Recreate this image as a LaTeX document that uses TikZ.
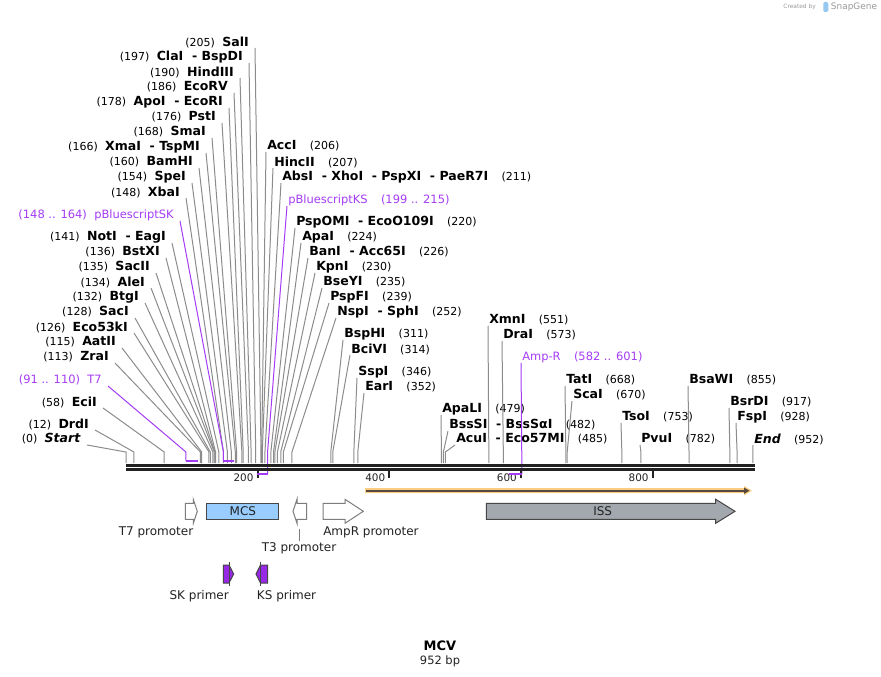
\documentclass[tikz,border=0pt]{standalone}
\usepackage{fontspec}
\setmainfont{DejaVu Sans}
\usepackage{xcolor}

\definecolor{cutgray}{RGB}{140,140,140}
\definecolor{featpurple}{RGB}{165,60,245}
\definecolor{primpurple}{RGB}{150,40,230}
\definecolor{mcsblue}{RGB}{153,204,255}
\definecolor{issgray}{RGB}{163,168,174}
\definecolor{orflight}{RGB}{250,205,130}
\definecolor{orfdark}{RGB}{85,72,60}
\definecolor{bbblack}{RGB}{34,34,34}
\definecolor{outlinegray}{RGB}{70,70,70}
\definecolor{promgray}{RGB}{125,125,125}
\definecolor{textgray}{RGB}{34,34,34}
\definecolor{logoblue}{RGB}{150,200,240}

\newcommand{\bpx}[1]{126+0.6585*#1}
\newcommand{\bpnum}[1]{{\fontsize{8.25}{10}\selectfont(#1)}}
\newcommand{\lgap}{\hspace{5.5pt}}
\newcommand{\rgap}{\hspace{10pt}}

\begin{document}
\begin{tikzpicture}[
    x=0.75pt, y=-0.75pt,
    enz/.style={inner sep=0pt, font=\fontsize{9.4}{10}\selectfont},
    featlab/.style={inner sep=0pt, text=featpurple, font=\fontsize{8.6}{10}\selectfont},
    cut/.style={draw=cutgray, line width=0.75pt},
    featline/.style={draw=featpurple, line width=0.75pt},
    bracket/.style={draw=featpurple, line width=1.6pt},
    prom/.style={draw=promgray, fill=white, line width=0.75pt},
    box/.style={draw=outlinegray, line width=0.75pt},
    primer/.style={draw=outlinegray, fill=primpurple, line width=0.75pt},
    ftext/.style={inner sep=0pt, text=textgray, font=\fontsize{9}{10}\selectfont}
  ]
\fill[white] (0,0) rectangle (881,677);
\useasboundingbox (0,0) rectangle (881,677);

\coordinate (elb) at (0,452);
\coordinate (bbL) at (126,465.3);
\coordinate (bbR) at (755,465.3);

% left-hand labels
\node[enz, anchor=east] (SalI) at (249,42) {\bpnum{205}\lgap\textbf{SalI}};
\node[enz, anchor=east] (ClaI) at (243,57) {\bpnum{197}\lgap\textbf{ClaI\ \ - BspDI}};
\node[enz, anchor=east] (HindIII) at (234,72) {\bpnum{190}\lgap\textbf{HindIII}};
\node[enz, anchor=east] (EcoRV) at (228,87) {\bpnum{186}\lgap\textbf{EcoRV}};
\node[enz, anchor=east] (ApoI) at (223,102) {\bpnum{178}\lgap\textbf{ApoI\ \ - EcoRI}};
\node[enz, anchor=east] (PstI) at (216,117) {\bpnum{176}\lgap\textbf{PstI}};
\node[enz, anchor=east] (SmaI) at (206,132) {\bpnum{168}\lgap\textbf{SmaI}};
\node[enz, anchor=east] (XmaI) at (200,147) {\bpnum{166}\lgap\textbf{XmaI\ \ - TspMI}};
\node[enz, anchor=east] (BamHI) at (193,162) {\bpnum{160}\lgap\textbf{BamHI}};
\node[enz, anchor=east] (SpeI) at (186,177) {\bpnum{154}\lgap\textbf{SpeI}};
\node[enz, anchor=east] (XbaI) at (180,192) {\bpnum{148}\lgap\textbf{XbaI}};
\node[featlab, anchor=east] (SK) at (174,215) {(148 .. 164)\lgap pBluescriptSK};
\node[enz, anchor=east] (NotI) at (166,237) {\bpnum{141}\lgap\textbf{NotI\ \ - EagI}};
\node[enz, anchor=east] (BstXI) at (160,252) {\bpnum{136}\lgap\textbf{BstXI}};
\node[enz, anchor=east] (SacII) at (150,267) {\bpnum{135}\lgap\textbf{SacII}};
\node[enz, anchor=east] (AleI) at (145,282) {\bpnum{134}\lgap\textbf{AleI}};
\node[enz, anchor=east] (BtgI) at (139,297) {\bpnum{132}\lgap\textbf{BtgI}};
\node[enz, anchor=east] (SacI) at (129,312) {\bpnum{128}\lgap\textbf{SacI}};
\node[enz, anchor=east] (Eco53kI) at (128,327) {\bpnum{126}\lgap\textbf{Eco53kI}};
\node[enz, anchor=east] (AatII) at (116,342) {\bpnum{115}\lgap\textbf{AatII}};
\node[enz, anchor=east] (ZraI) at (109,357) {\bpnum{113}\lgap\textbf{ZraI}};
\node[featlab, anchor=east] (T7) at (102,380) {(91 .. 110)\lgap T7};
\node[enz, anchor=east] (EciI) at (97,402) {\bpnum{58}\lgap\textbf{EciI}};
\node[enz, anchor=east] (DrdI) at (89,424) {\bpnum{12}\lgap\textbf{DrdI}};
\node[enz, anchor=east] (Start) at (81,439) {\bpnum{0}\lgap\textbf{\textit{Start}}};

% right-hand labels
\node[enz, anchor=west] (AccI) at (267,146) {\textbf{AccI}\rgap\bpnum{206}};
\node[enz, anchor=west] (HincII) at (274,162) {\textbf{HincII}\rgap\bpnum{207}};
\node[enz, anchor=west] (AbsI) at (282,177) {\textbf{AbsI\ \ - XhoI\ \ - PspXI\ \ - PaeR7I}\rgap\bpnum{211}};
\node[featlab, anchor=west] (KS) at (288,200) {pBluescriptKS\rgap(199 .. 215)};
\node[enz, anchor=west] (PspOMI) at (296,222) {\textbf{PspOMI\ \ - EcoO109I}\rgap\bpnum{220}};
\node[enz, anchor=west] (ApaI) at (302,237) {\textbf{ApaI}\rgap\bpnum{224}};
\node[enz, anchor=west] (BanI) at (309,252) {\textbf{BanI\ \ - Acc65I}\rgap\bpnum{226}};
\node[enz, anchor=west] (KpnI) at (316,267) {\textbf{KpnI}\rgap\bpnum{230}};
\node[enz, anchor=west] (BseYI) at (323,282) {\textbf{BseYI}\rgap\bpnum{235}};
\node[enz, anchor=west] (PspFI) at (330,297) {\textbf{PspFI}\rgap\bpnum{239}};
\node[enz, anchor=west] (NspI) at (337,312) {\textbf{NspI\ \ - SphI}\rgap\bpnum{252}};
\node[enz, anchor=west] (BspHI) at (344,334) {\textbf{BspHI}\rgap\bpnum{311}};
\node[enz, anchor=west] (BciVI) at (351,349) {\textbf{BciVI}\rgap\bpnum{314}};
\node[enz, anchor=west] (SspI) at (358,372) {\textbf{SspI}\rgap\bpnum{346}};
\node[enz, anchor=west] (EarI) at (365,387) {\textbf{EarI}\rgap\bpnum{352}};
\node[enz, anchor=west] (ApaLI) at (442,409) {\textbf{ApaLI}\rgap\bpnum{479}};
\node[enz, anchor=west] (BssSI) at (449,425) {\textbf{BssSI\ \ - BssSαI}\rgap\bpnum{482}};
\node[enz, anchor=west] (AcuI) at (456,439) {\textbf{AcuI\ \ - Eco57MI}\rgap\bpnum{485}};
\node[enz, anchor=west] (XmnI) at (489,320) {\textbf{XmnI}\rgap\bpnum{551}};
\node[enz, anchor=west] (DraI) at (503,335) {\textbf{DraI}\rgap\bpnum{573}};
\node[featlab, anchor=west] (AmpR) at (522,357) {Amp-R\rgap(582 .. 601)};
\node[enz, anchor=west] (TatI) at (566,380) {\textbf{TatI}\rgap\bpnum{668}};
\node[enz, anchor=west] (ScaI) at (573,395) {\textbf{ScaI}\rgap\bpnum{670}};
\node[enz, anchor=west] (TsoI) at (622,417) {\textbf{TsoI}\rgap\bpnum{753}};
\node[enz, anchor=west] (PvuI) at (641,439) {\textbf{PvuI}\rgap\bpnum{782}};
\node[enz, anchor=west] (BsaWI) at (689,380) {\textbf{BsaWI}\rgap\bpnum{855}};
\node[enz, anchor=west] (BsrDI) at (730,402) {\textbf{BsrDI}\rgap\bpnum{917}};
\node[enz, anchor=west] (FspI) at (737,417) {\textbf{FspI}\rgap\bpnum{928}};
\node[enz, anchor=west] (End) at (754,439) {\textbf{\textit{End}}\rgap\bpnum{952}};

% sites on the backbone
\coordinate (cStart) at ({\bpx{0}},463);
\coordinate (cDrdI) at ({\bpx{12}},463);
\coordinate (cEciI) at ({\bpx{58}},463);
\coordinate (cZraI) at ({\bpx{113}},463);
\coordinate (cAatII) at ({\bpx{115}},463);
\coordinate (cEco53kI) at ({\bpx{126}},463);
\coordinate (cSacI) at ({\bpx{128}},463);
\coordinate (cBtgI) at ({\bpx{132}},463);
\coordinate (cAleI) at ({\bpx{134}},463);
\coordinate (cSacII) at ({\bpx{135}},463);
\coordinate (cBstXI) at ({\bpx{136}},463);
\coordinate (cNotI) at ({\bpx{141}},463);
\coordinate (cXbaI) at ({\bpx{148}},463);
\coordinate (cSpeI) at ({\bpx{154}},463);
\coordinate (cBamHI) at ({\bpx{160}},463);
\coordinate (cXmaI) at ({\bpx{166}},463);
\coordinate (cSmaI) at ({\bpx{168}},463);
\coordinate (cPstI) at ({\bpx{176}},463);
\coordinate (cApoI) at ({\bpx{178}},463);
\coordinate (cEcoRV) at ({\bpx{186}},463);
\coordinate (cHindIII) at ({\bpx{190}},463);
\coordinate (cClaI) at ({\bpx{197}},463);
\coordinate (cSalI) at ({\bpx{205}},463);
\coordinate (cAccI) at ({\bpx{206}},463);
\coordinate (cHincII) at ({\bpx{207}},463);
\coordinate (cAbsI) at ({\bpx{211}},463);
\coordinate (cPspOMI) at ({\bpx{220}},463);
\coordinate (cApaI) at ({\bpx{224}},463);
\coordinate (cBanI) at ({\bpx{226}},463);
\coordinate (cKpnI) at ({\bpx{230}},463);
\coordinate (cBseYI) at ({\bpx{235}},463);
\coordinate (cPspFI) at ({\bpx{239}},463);
\coordinate (cNspI) at ({\bpx{252}},463);
\coordinate (cBspHI) at ({\bpx{311}},463);
\coordinate (cBciVI) at ({\bpx{314}},463);
\coordinate (cSspI) at ({\bpx{346}},463);
\coordinate (cEarI) at ({\bpx{352}},463);
\coordinate (cApaLI) at ({\bpx{479}},463);
\coordinate (cBssSI) at ({\bpx{482}},463);
\coordinate (cAcuI) at ({\bpx{485}},463);
\coordinate (cXmnI) at ({\bpx{551}},463);
\coordinate (cDraI) at ({\bpx{573}},463);
\coordinate (cTatI) at ({\bpx{668}},463);
\coordinate (cScaI) at ({\bpx{670}},463);
\coordinate (cTsoI) at ({\bpx{753}},463);
\coordinate (cPvuI) at ({\bpx{782}},463);
\coordinate (cBsaWI) at ({\bpx{855}},463);
\coordinate (cBsrDI) at ({\bpx{917}},463);
\coordinate (cFspI) at ({\bpx{928}},463);
\coordinate (cEnd) at ({\bpx{952}},463);
\coordinate (fT7a) at ({\bpx{91}},460.7);
\coordinate (fT7b) at ({\bpx{110}},460.7);
\coordinate (fSKa) at ({\bpx{148}},460.7);
\coordinate (fSKb) at ({\bpx{164}},460.7);
\coordinate (fKSa) at ({\bpx{199}},474);
\coordinate (fKSb) at ({\bpx{215}},474);
\coordinate (fAmpa) at ({\bpx{582}},474);
\coordinate (fAmpb) at ({\bpx{601}},474);

% connectors from the left
\draw[cut] ([shift={(6,6)}]SalI.east) -- (cSalI |- elb) -- (cSalI);
\draw[cut] ([shift={(6,6)}]ClaI.east) -- (cClaI |- elb) -- (cClaI);
\draw[cut] ([shift={(6,6)}]HindIII.east) -- (cHindIII |- elb) -- (cHindIII);
\draw[cut] ([shift={(6,6)}]EcoRV.east) -- (cEcoRV |- elb) -- (cEcoRV);
\draw[cut] ([shift={(6,6)}]ApoI.east) -- (cApoI |- elb) -- (cApoI);
\draw[cut] ([shift={(6,6)}]PstI.east) -- (cPstI |- elb) -- (cPstI);
\draw[cut] ([shift={(6,6)}]SmaI.east) -- (cSmaI |- elb) -- (cSmaI);
\draw[cut] ([shift={(6,6)}]XmaI.east) -- (cXmaI |- elb) -- (cXmaI);
\draw[cut] ([shift={(6,6)}]BamHI.east) -- (cBamHI |- elb) -- (cBamHI);
\draw[cut] ([shift={(6,6)}]SpeI.east) -- (cSpeI |- elb) -- (cSpeI);
\draw[cut] ([shift={(6,6)}]XbaI.east) -- (cXbaI |- elb) -- (cXbaI);
\draw[cut] ([shift={(6,6)}]NotI.east) -- (cNotI |- elb) -- (cNotI);
\draw[cut] ([shift={(6,6)}]BstXI.east) -- (cBstXI |- elb) -- (cBstXI);
\draw[cut] ([shift={(6,6)}]SacII.east) -- (cSacII |- elb) -- (cSacII);
\draw[cut] ([shift={(6,6)}]AleI.east) -- (cAleI |- elb) -- (cAleI);
\draw[cut] ([shift={(6,6)}]BtgI.east) -- (cBtgI |- elb) -- (cBtgI);
\draw[cut] ([shift={(6,6)}]SacI.east) -- (cSacI |- elb) -- (cSacI);
\draw[cut] ([shift={(6,6)}]Eco53kI.east) -- (cEco53kI |- elb) -- (cEco53kI);
\draw[cut] ([shift={(6,6)}]AatII.east) -- (cAatII |- elb) -- (cAatII);
\draw[cut] ([shift={(6,6)}]ZraI.east) -- (cZraI |- elb) -- (cZraI);
\draw[cut] ([shift={(6,6)}]EciI.east) -- (cEciI |- elb) -- (cEciI);
\draw[cut] ([shift={(6,6)}]DrdI.east) -- (cDrdI |- elb) -- (cDrdI);
\draw[cut] ([shift={(6,6)}]Start.east) -- (cStart |- elb) -- (cStart);
\draw[featline] ([shift={(6,6)}]SK.east) -- (fSKa |- elb) -- (fSKa);
\draw[featline] ([shift={(6,6)}]T7.east) -- (fT7a |- elb) -- (fT7a);

% connectors from the right
\draw[cut] ([shift={(-1,6)}]AccI.west) -- (cAccI |- elb) -- (cAccI);
\draw[cut] ([shift={(-1,6)}]HincII.west) -- (cHincII |- elb) -- (cHincII);
\draw[cut] ([shift={(-1,6)}]AbsI.west) -- (cAbsI |- elb) -- (cAbsI);
\draw[cut] ([shift={(-1,6)}]PspOMI.west) -- (cPspOMI |- elb) -- (cPspOMI);
\draw[cut] ([shift={(-1,6)}]ApaI.west) -- (cApaI |- elb) -- (cApaI);
\draw[cut] ([shift={(-1,6)}]BanI.west) -- (cBanI |- elb) -- (cBanI);
\draw[cut] ([shift={(-1,6)}]KpnI.west) -- (cKpnI |- elb) -- (cKpnI);
\draw[cut] ([shift={(-1,6)}]BseYI.west) -- (cBseYI |- elb) -- (cBseYI);
\draw[cut] ([shift={(-1,6)}]PspFI.west) -- (cPspFI |- elb) -- (cPspFI);
\draw[cut] ([shift={(-1,6)}]NspI.west) -- (cNspI |- elb) -- (cNspI);
\draw[cut] ([shift={(-1,6)}]BspHI.west) -- (cBspHI |- elb) -- (cBspHI);
\draw[cut] ([shift={(-1,6)}]BciVI.west) -- (cBciVI |- elb) -- (cBciVI);
\draw[cut] ([shift={(-1,6)}]SspI.west) -- (cSspI |- elb) -- (cSspI);
\draw[cut] ([shift={(-1,6)}]EarI.west) -- (cEarI |- elb) -- (cEarI);
\draw[cut] ([shift={(-1,6)}]ApaLI.west) -- (cApaLI |- elb) -- (cApaLI);
\draw[cut] ([shift={(-1,6)}]BssSI.west) -- (cBssSI |- elb) -- (cBssSI);
\draw[cut] ([shift={(-1,6)}]AcuI.west) -- (cAcuI |- elb) -- (cAcuI);
\draw[cut] ([shift={(-1,6)}]XmnI.west) -- (cXmnI |- elb) -- (cXmnI);
\draw[cut] ([shift={(-1,6)}]DraI.west) -- (cDraI |- elb) -- (cDraI);
\draw[cut] ([shift={(-1,6)}]TatI.west) -- (cTatI |- elb) -- (cTatI);
\draw[cut] ([shift={(-1,6)}]ScaI.west) -- (cScaI |- elb) -- (cScaI);
\draw[cut] ([shift={(-1,6)}]TsoI.west) -- (cTsoI |- elb) -- (cTsoI);
\draw[cut] ([shift={(-1,6)}]PvuI.west) -- (cPvuI |- elb) -- (cPvuI);
\draw[cut] ([shift={(-1,6)}]BsaWI.west) -- (cBsaWI |- elb) -- (cBsaWI);
\draw[cut] ([shift={(-1,6)}]BsrDI.west) -- (cBsrDI |- elb) -- (cBsrDI);
\draw[cut] ([shift={(-1,6)}]FspI.west) -- (cFspI |- elb) -- (cFspI);
\draw[cut] ([shift={(-1,6)}]End.west) -- (cEnd |- elb) -- (cEnd);
\draw[featline] ([shift={(-1,6)}]KS.west) -- (fKSb |- elb) -- (fKSb);
\draw[featline] ([shift={(-1,6)}]AmpR.west) -- (fAmpb |- elb) -- (fAmpb);

% forward feature brackets
\draw[bracket] (fT7a) -- (fT7b);
\draw[bracket] (fSKa) -- (fSKb);

% backbone
\draw[bbblack, line width=2pt] (bbL) -- (bbR);
\draw[bbblack, line width=2pt] ([yshift=-3.2pt]bbL) -- ([yshift=-3.2pt]bbR);

% ruler
\coordinate (t200) at ({\bpx{200}},471);
\coordinate (t400) at ({\bpx{400}},471);
\coordinate (t600) at ({\bpx{600}},471);
\coordinate (t800) at ({\bpx{800}},471);
\draw[bbblack, line width=1.5pt] (t200) -- ++(0,7);
\draw[bbblack, line width=1.5pt] (t400) -- ++(0,7);
\draw[bbblack, line width=1.5pt] (t600) -- ++(0,7);
\draw[bbblack, line width=1.5pt] (t800) -- ++(0,7);
\node[ftext, font=\fontsize{7.8}{9}\selectfont, anchor=east] (n200) at ([shift={(-4,6.5)}]t200) {200};
\node[ftext, font=\fontsize{7.8}{9}\selectfont, anchor=east] (n400) at ([shift={(-4,6.5)}]t400) {400};
\node[ftext, font=\fontsize{7.8}{9}\selectfont, anchor=east] (n600) at ([shift={(-4,6.5)}]t600) {600};
\node[ftext, font=\fontsize{7.8}{9}\selectfont, anchor=east] (n800) at ([shift={(-4,6.5)}]t800) {800};

% reverse feature brackets
\draw[bracket] (fKSb) -- (fKSa);
\draw[bracket] (fAmpb) -- (fAmpa);

% open reading frame
\fill[orflight] (365,488.2) -- (744,488.2) -- (744,486) -- (752,490.7) -- (744,495.4) -- (744,493.2) -- (365,493.2) -- cycle;
\draw[orfdark, line width=1.5pt] (366,490.7) -- (745,490.7);
\fill[orfdark] (744,487.6) -- (749.5,490.7) -- (744,493.8) -- cycle;

% features
\draw[prom] (185.3,503.3) -- (193.3,503.3) -- (193.3,499.3) -- (197.3,511.3) -- (193.3,523.3) -- (193.3,519.3) -- (185.3,519.3) -- cycle;
\node[box, fill=mcsblue, inner sep=0pt, minimum width=53.8pt, minimum height=12pt, font=\fontsize{9}{10}\selectfont, text=textgray] (MCS) at (242.85,511.3) {MCS};
\draw[prom] (306.7,503.3) -- (297,503.3) -- (297,499.3) -- (293,511.3) -- (297,523.3) -- (297,519.3) -- (306.7,519.3) -- cycle;
\draw[prom] (323,503.3) -- (345,503.3) -- (345,499.3) -- (363.3,511.3) -- (345,523.3) -- (345,519.3) -- (323,519.3) -- cycle;
\draw[box, fill=issgray] (486.3,503.3) -- (715.7,503.3) -- (715.7,499.3) -- (735,511.3) -- (715.7,523.3) -- (715.7,519.3) -- (486.3,519.3) -- cycle;
\node[ftext] (ISS) at (602.7,511.3) {ISS};

\node[ftext] (T7lab) at (156,532.7) {T7 promoter};
\node[ftext, anchor=west] (AmpRlab) at (323,532.7) {AmpR promoter};
\node[ftext] (T3lab) at (299,548.3) {T3 promoter};
\coordinate (T3bot) at (299.3,529.3);
\draw[promgray, line width=0.75pt] (T3bot) -- ([yshift=1pt]T3lab.north -| T3bot);

% primers
\filldraw[primer] (223.3,565) -- (229,565) -- (233.7,574) -- (229,583) -- (223.3,583) -- cycle;
\draw[outlinegray, line width=0.75pt] (229,562) -- (229,586);
\filldraw[primer] (267.7,565) -- (260.5,565) -- (256,574) -- (260.5,583) -- (267.7,583) -- cycle;
\draw[outlinegray, line width=0.75pt] (260.5,562) -- (260.5,586);
\node[ftext] (SKlab) at (199.2,595.7) {SK primer};
\node[ftext, anchor=west] (KSlab) at (256.7,595.7) {KS primer};

% title
\node[inner sep=0pt, text=black, font=\bfseries\fontsize{9.75}{11}\selectfont] (title) at (440,646) {MCV};
\node[inner sep=0pt, text=textgray, font=\fontsize{8.6}{10}\selectfont] (size) at (440,661) {952 bp};

% credit
\node[inner sep=0pt, anchor=east, text=black!40, font=\fontsize{4.4}{5}\selectfont] (credit) at (816,7) {Created by};
\fill[logoblue, rounded corners=1pt] (823.3,2) rectangle (828.3,12);
\node[inner sep=0pt, anchor=west, text=black!40, font=\fontsize{6.7}{8}\selectfont] (snap) at (830.7,7) {SnapGene};
\end{tikzpicture}
\end{document}
